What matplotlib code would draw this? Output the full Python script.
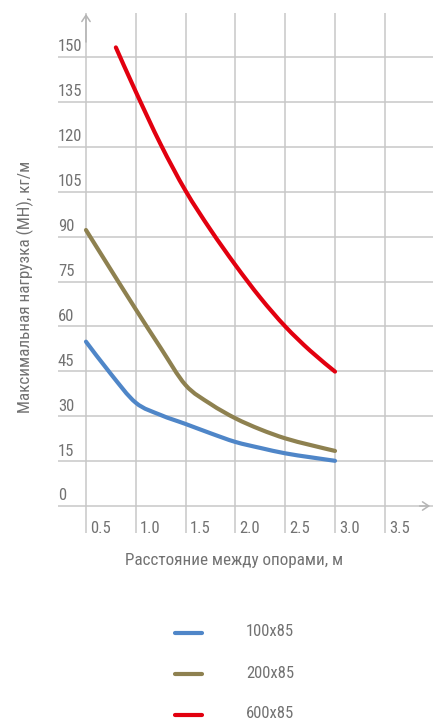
import matplotlib
matplotlib.use("Agg")
import matplotlib.pyplot as plt
from matplotlib.lines import Line2D
from matplotlib.path import Path
from matplotlib.patches import PathPatch
from matplotlib import transforms

# ---- data ----
series_names = ["100x85", "200x85", "600x85"]
x_blue = [0.5, 0.75, 1.0, 1.25, 1.5, 1.75, 2.0, 2.25, 2.5, 2.75, 3.0]
y_blue = [54.9, 44.1, 34.5, 30.4, 27.4, 24.3, 21.4, 19.4, 17.6, 16.3, 15.1]
x_olive = [0.5, 0.75, 1.0, 1.25, 1.5, 1.75, 2.0, 2.25, 2.5, 2.75, 3.0]
y_olive = [92.2, 78.9, 65.7, 52.8, 40.4, 34.1, 29.3, 25.6, 22.6, 20.4, 18.4]
x_red = [0.8, 1.0, 1.25, 1.5, 1.75, 2.0, 2.25, 2.5, 2.75, 3.0]
y_red = [153.2, 138.4, 120.8, 105.3, 92.3, 80.5, 69.6, 60.0, 51.9, 44.9]
x_ticks = [0.5, 1.0, 1.5, 2.0, 2.5, 3.0, 3.5]
x_ticklabels = ["0.5", "1.0", "1.5", "2.0", "2.5", "3.0", "3.5"]
y_ticks = [0, 15, 30, 45, 60, 75, 90, 105, 120, 135, 150]
y_ticklabels = [str(v) for v in y_ticks]
x_label = "Расстояние между опорами, м"
y_label = "Максимальная нагрузка (МН), кг/м"

colors = ["#4f86c8", "#8e8150", "#e2000f"]
grid_c = "#c8c8c8"
text_c = "#727272"
FONT = ["Roboto Condensed", "Liberation Sans Narrow", "Roboto", "DejaVu Sans"]


def smooth_path(xs, ys):
    """Catmull-Rom spline through the points, expressed as cubic Bezier segments."""
    pts = list(zip(xs, ys))
    n = len(pts)
    verts = [pts[0]]
    codes = [Path.MOVETO]
    for i in range(n - 1):
        p0 = pts[i - 1] if i > 0 else pts[i]
        p1 = pts[i]
        p2 = pts[i + 1]
        p3 = pts[i + 2] if i + 2 < n else pts[i + 1]
        c1 = (p1[0] + (p2[0] - p0[0]) / 6, p1[1] + (p2[1] - p0[1]) / 6)
        c2 = (p2[0] - (p3[0] - p1[0]) / 6, p2[1] - (p3[1] - p1[1]) / 6)
        verts += [c1, c2, p2]
        codes += [Path.CURVE4] * 3
    return Path(verts, codes)


W, H = 433, 724
fig = plt.figure(figsize=(W / 100, H / 100), dpi=100)
ax = fig.add_axes([58 / W, (H - 533) / H, (W - 58) / W, (533 - 13) / H])
ax.set_xlim(0.219, 3.984)
ax.set_ylim(-9.02, 164.7)
for s in ax.spines.values():
    s.set_visible(False)
ax.set_xticks(x_ticks)
ax.set_yticks(y_ticks)
ax.tick_params(length=0, labelbottom=False, labelleft=False)
ax.grid(True, color=grid_c, linewidth=1.1)
ax.set_axisbelow(True)

# arrows
ax.annotate("", xy=(3.955, 0), xytext=(3.85, 0),
            arrowprops=dict(arrowstyle="->,head_length=0.45,head_width=0.3",
                            color="#b5b5b5", lw=1.1, shrinkA=0, shrinkB=0))
ax.annotate("", xy=(0.5, 164.4), xytext=(0.5, 155),
            arrowprops=dict(arrowstyle="->,head_length=0.45,head_width=0.3",
                            color="#b5b5b5", lw=1.1, shrinkA=0, shrinkB=0))

for xs, ys, c in zip([x_blue, x_olive, x_red], [y_blue, y_olive, y_red], colors):
    ax.add_patch(PathPatch(smooth_path(xs, ys), facecolor="none", edgecolor=c,
                           lw=3.0, capstyle="round", joinstyle="round"))

# tick labels
ytrans = transforms.blended_transform_factory(ax.transAxes, ax.transData)
for v, lab in zip(y_ticks, y_ticklabels):
    ax.annotate(lab, xy=(0, v), xycoords=ytrans, xytext=(0, 4), textcoords="offset points",
                ha="left", va="baseline", fontsize=12, color=text_c, family=FONT)
xtrans = transforms.blended_transform_factory(ax.transData, ax.transAxes)
for v, lab in zip(x_ticks, x_ticklabels):
    ax.annotate(lab, xy=(v, 0), xycoords=xtrans, xytext=(3, 0), textcoords="offset points",
                ha="left", va="baseline", fontsize=12, color=text_c, family=FONT)

fig.text(234.5 / W, 1 - 560 / H, x_label, ha="center", va="center",
         fontsize=12.3, color=text_c, family=FONT)
fig.text(25 / W, 1 - 287 / H, y_label, ha="center", va="center", rotation=90,
         fontsize=12.3, color=text_c, family=FONT)

# legend
leg_y = [633, 674, 715]
for name, c, yy in zip(series_names, colors, leg_y):
    fig.add_artist(Line2D([175 / W, 202 / W], [1 - yy / H, 1 - yy / H], color=c, lw=3.0,
                          solid_capstyle="round", transform=fig.transFigure))
    fig.text(246 / W, 1 - (yy - 1) / H, name, ha="left", va="center",
             fontsize=12, color=text_c, family=FONT)

fig.savefig("out.png", dpi=100)
